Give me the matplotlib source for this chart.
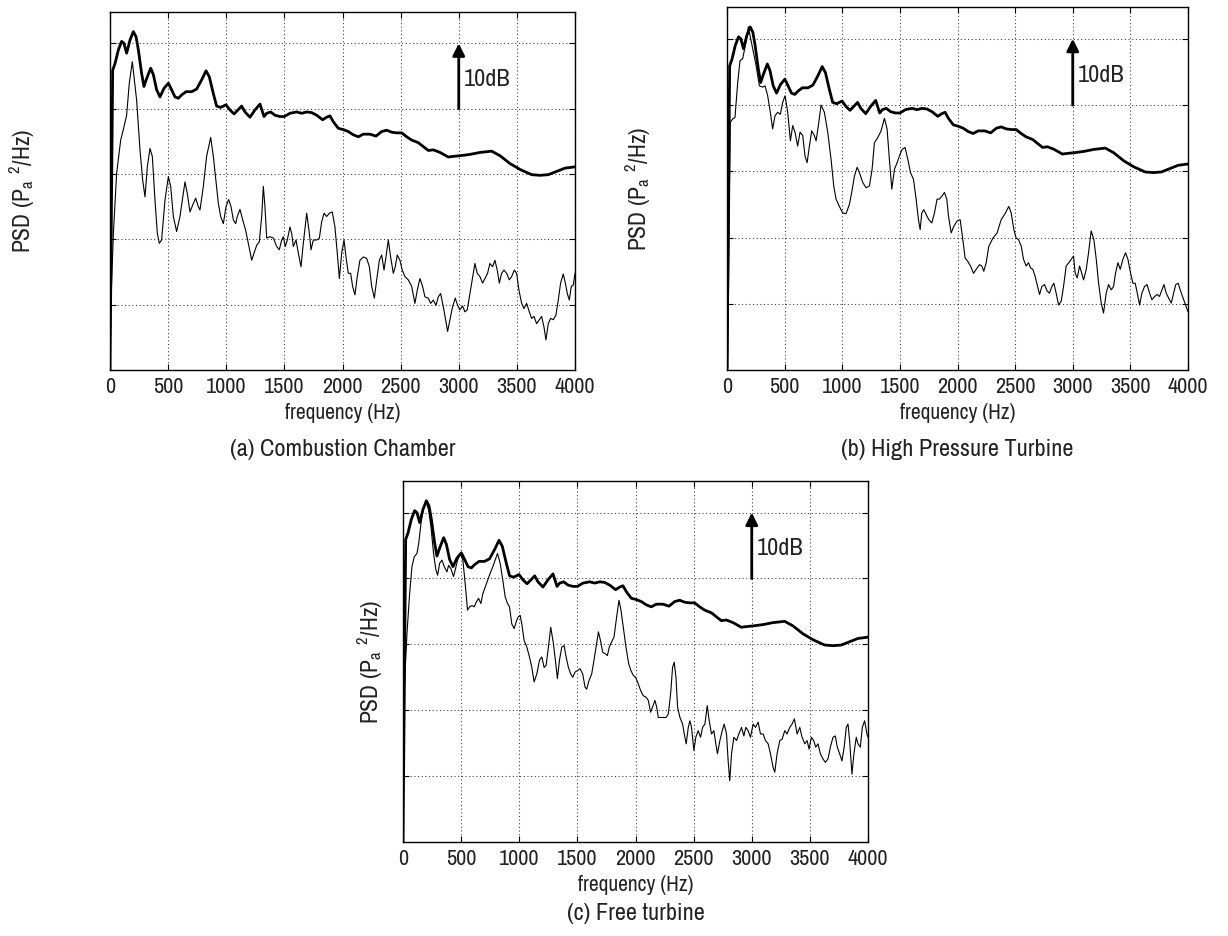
import matplotlib
matplotlib.use("Agg")
import matplotlib.pyplot as plt

plt.rcParams['font.family'] = ['Archivo Narrow', 'Liberation Sans', 'DejaVu Sans']
plt.rcParams['mathtext.default'] = 'regular'

# ---------------- data (frequency in Hz, level in dB, relative) ----------------
# thick curve: total / reference spectrum (same in the three panels)
thick_f = [0, 23, 43, 72, 100, 120, 143, 172, 201, 224, 244, 272, 292, 315, 350, 373, 401, 430,
           464, 502, 530, 559, 588, 616, 654, 702, 745, 788, 826, 854, 889, 917, 952, 998, 1032,
           1067, 1095, 1133, 1161, 1204, 1247, 1290, 1325, 1348, 1382, 1419, 1462, 1500, 1548,
           1606, 1649, 1692, 1735, 1778, 1829, 1864, 1892, 1921, 1964, 2007, 2050, 2093, 2136,
           2179, 2236, 2288, 2337, 2380, 2423, 2466, 2509, 2552, 2595, 2652, 2695, 2738, 2781,
           2839, 2910, 2953, 3011, 3096, 3183, 3283, 3355, 3441, 3527, 3627, 3699, 3770, 3842,
           3914, 4000]
thick_db = [0, 45.9, 46.9, 49.0, 50.3, 50.0, 48.5, 50.5, 51.8, 51.0, 49.0, 45.4, 43.4, 44.6, 46.2,
            45.2, 42.9, 41.8, 43.1, 43.9, 42.9, 41.8, 41.6, 42.1, 42.6, 42.6, 43.0, 44.4, 45.8,
            44.9, 42.3, 40.4, 40.2, 40.6, 39.8, 39.2, 39.7, 40.4, 39.5, 38.7, 39.8, 40.7, 38.8,
            39.3, 39.5, 39.0, 38.8, 38.8, 39.3, 39.5, 39.3, 39.5, 39.4, 39.0, 38.3, 38.7, 38.9,
            38.0, 37.0, 36.8, 36.5, 36.0, 35.7, 36.1, 36.1, 35.8, 36.5, 36.7, 36.4, 36.3, 36.3,
            35.7, 35.2, 34.8, 34.2, 33.6, 33.7, 33.3, 32.6, 32.7, 32.8, 33.0, 33.3, 33.5, 32.8,
            31.6, 30.7, 29.9, 29.8, 29.9, 30.4, 30.9, 31.1]

# thin curve (a) Combustion Chamber
cc_f = [0, 9, 29, 57, 92, 120, 143, 166, 192, 229, 258, 281, 301, 321, 344, 364, 387, 407, 424,
        444, 473, 502, 522, 545, 573, 602, 645, 665, 688, 717, 737, 760, 774, 803, 831, 866, 889,
        912, 932, 952, 975, 998, 1021, 1041, 1061, 1081, 1095, 1118, 1141, 1167, 1190, 1219,
        1239, 1262, 1284, 1305, 1319, 1333, 1348, 1376, 1405, 1434, 1456, 1477, 1491, 1508, 1525,
        1548, 1563, 1577, 1600, 1620, 1643, 1663, 1692, 1715, 1729, 1749, 1778, 1801, 1821, 1841,
        1864, 1887, 1912, 1935, 1955, 1973, 1993, 2013, 2030, 2050, 2070, 2087, 2107, 2127, 2150,
        2179, 2208, 2231, 2251, 2274, 2294, 2317, 2337, 2357, 2374, 2394, 2414, 2437, 2454, 2471,
        2494, 2514, 2537, 2566, 2595, 2623, 2643, 2666, 2689, 2709, 2738, 2758, 2781, 2804, 2824,
        2844, 2867, 2887, 2904, 2924, 2947, 2970, 2990, 3010, 3033, 3053, 3073, 3096, 3119, 3139,
        3159, 3182, 3205, 3225, 3248, 3268, 3291, 3311, 3331, 3349, 3369, 3389, 3412, 3435, 3455,
        3478, 3498, 3518, 3541, 3561, 3584, 3607, 3627, 3647, 3670, 3693, 3713, 3733, 3750, 3770,
        3790, 3813, 3836, 3856, 3876, 3899, 3917, 3934, 3951, 3968, 3985, 4000]
cc_db = [0, 10.7, 20.9, 30.1, 35.2, 37.2, 39.0, 43.9, 47.2, 41.3, 33.7, 29.1, 26.5, 31.1, 33.9,
         32.7, 26.0, 20.9, 19.4, 19.9, 26.0, 29.6, 28.1, 23.5, 21.2, 23.5, 28.8, 27.0, 24.2, 25.5,
         26.3, 25.0, 24.5, 28.1, 32.7, 35.6, 32.7, 28.8, 25.5, 23.5, 22.4, 25.0, 26.1, 25.0, 23.0,
         22.4, 23.5, 24.6, 23.0, 21.4, 19.4, 16.8, 17.9, 19.1, 19.6, 23.5, 28.1, 25.0, 20.2, 20.4,
         20.2, 18.9, 18.4, 19.9, 20.4, 18.9, 19.9, 21.9, 20.9, 18.9, 19.9, 17.9, 15.8, 19.4, 24.0,
         20.9, 18.4, 19.9, 19.9, 20.2, 22.7, 24.0, 23.5, 24.0, 24.2, 21.9, 17.9, 14.0, 17.9, 19.9,
         17.3, 14.8, 14.8, 12.8, 11.5, 14.3, 16.8, 17.3, 17.1, 15.8, 12.8, 11.0, 13.8, 16.8, 17.6,
         15.3, 17.3, 19.9, 17.3, 14.8, 15.8, 17.6, 16.8, 15.3, 14.3, 13.8, 12.8, 10.2, 12.2, 14.0,
         12.8, 11.2, 11.0, 10.2, 10.7, 9.9, 11.2, 11.7, 9.7, 7.7, 5.9, 7.7, 9.7, 11.0, 9.9, 9.2,
         9.8, 8.9, 9.2, 11.7, 14.3, 16.3, 14.8, 14.3, 13.3, 14.0, 14.8, 16.3, 15.8, 16.8, 15.3,
         13.3, 14.8, 15.3, 14.8, 13.8, 14.3, 15.3, 14.8, 12.2, 10.2, 9.4, 10.2, 8.9, 7.9, 8.2, 7.1,
         7.7, 8.2, 6.6, 4.6, 7.1, 7.9, 7.7, 8.4, 10.7, 13.3, 14.7, 13.3, 11.7, 10.7, 12.8, 13.0,
         14.8]

# thin curve (b) High Pressure Turbine
hpt_f = [0, 6, 29, 49, 69, 93, 113, 136, 165, 185, 223, 252, 281, 310, 330, 353, 376, 396, 417,
         440, 463, 483, 504, 527, 550, 570, 590, 613, 634, 657, 677, 695, 715, 735, 758, 773, 793,
         816, 845, 874, 903, 926, 946, 975, 1004, 1033, 1062, 1082, 1106, 1129, 1149, 1178, 1207,
         1236, 1259, 1279, 1308, 1337, 1366, 1389, 1409, 1430, 1453, 1476, 1496, 1519, 1545, 1569,
         1592, 1618, 1641, 1661, 1676, 1690, 1707, 1728, 1751, 1777, 1800, 1823, 1843, 1867, 1887,
         1907, 1922, 1945, 1968, 1997, 2023, 2046, 2066, 2089, 2113, 2139, 2162, 2191, 2211, 2228,
         2249, 2272, 2307, 2344, 2379, 2416, 2445, 2466, 2489, 2509, 2529, 2553, 2573, 2596, 2616,
         2634, 2654, 2674, 2691, 2712, 2732, 2755, 2778, 2798, 2819, 2836, 2856, 2877, 2900, 2920,
         2943, 2966, 2987, 3007, 3021, 3039, 3059, 3073, 3094, 3117, 3137, 3160, 3183, 3204, 3224,
         3247, 3267, 3290, 3311, 3334, 3354, 3371, 3392, 3412, 3435, 3458, 3479, 3502, 3522, 3542,
         3560, 3580, 3600, 3623, 3644, 3667, 3687, 3710, 3733, 3753, 3774, 3791, 3811, 3831, 3855,
         3875, 3894, 3915, 3932, 3952, 3973, 4000]
hpt_db = [0, 0.5, 37.4, 37.9, 38.1, 43.4, 46.7, 47.0, 49.5, 51.8, 48.5, 46.0, 42.9, 42.7, 42.9,
          41.4, 38.9, 36.4, 38.4, 38.9, 38.6, 40.4, 41.4, 38.9, 34.6, 36.9, 35.9, 33.8, 35.9, 35.4,
          32.3, 31.3, 33.8, 36.1, 35.4, 34.6, 36.9, 40.0, 38.9, 35.9, 31.8, 27.8, 25.8, 24.7, 23.7,
          23.6, 25.0, 26.8, 29.3, 30.6, 29.8, 28.3, 27.5, 27.8, 30.3, 34.3, 35.1, 36.1, 38.0, 36.4,
          31.8, 27.3, 30.3, 31.3, 32.3, 33.3, 33.6, 31.8, 29.8, 28.8, 25.8, 22.7, 21.2, 23.7, 24.2,
          23.5, 22.7, 22.2, 23.7, 25.8, 25.8, 26.3, 26.8, 25.8, 23.2, 20.7, 21.7, 22.5, 22.7, 19.7,
          16.9, 16.4, 15.7, 14.6, 15.2, 15.9, 15.7, 14.9, 16.2, 18.7, 19.9, 20.7, 22.7, 23.7, 24.7,
          23.7, 21.2, 19.9, 19.7, 18.7, 16.7, 15.7, 16.2, 15.4, 15.2, 14.1, 12.9, 11.4, 12.6, 12.9,
          11.9, 11.6, 12.6, 13.1, 11.6, 9.8, 10.4, 12.6, 15.7, 16.2, 16.7, 17.2, 14.6, 13.9, 15.7,
          14.9, 13.6, 15.2, 17.7, 21.0, 19.7, 16.7, 13.1, 10.1, 8.6, 11.6, 12.9, 12.1, 12.6, 14.6,
          16.2, 15.2, 16.7, 17.7, 16.7, 14.6, 13.1, 13.1, 11.6, 9.8, 11.6, 12.6, 12.9, 11.6, 10.6,
          11.1, 11.4, 11.1, 12.1, 12.9, 11.6, 10.9, 10.1, 11.6, 12.9, 13.1, 12.1, 11.1, 10.1, 8.8]

# thin curve (c) Free turbine
ft_f = [0, 6, 34, 57, 77, 97, 120, 135, 155, 178, 198, 220, 240, 263, 283, 298, 315, 335, 355,
        378, 392, 412, 435, 449, 470, 492, 515, 535, 555, 573, 593, 613, 630, 650, 670, 687, 707,
        727, 750, 773, 793, 813, 836, 859, 879, 899, 916, 936, 956, 979, 993, 1008, 1022, 1042,
        1065, 1088, 1108, 1128, 1151, 1174, 1194, 1214, 1231, 1251, 1271, 1294, 1314, 1328, 1346,
        1366, 1386, 1403, 1423, 1443, 1460, 1480, 1500, 1523, 1546, 1566, 1580, 1600, 1623, 1643,
        1661, 1681, 1701, 1718, 1738, 1758, 1775, 1795, 1815, 1838, 1858, 1875, 1895, 1918, 1941,
        1961, 1981, 2001, 2024, 2044, 2067, 2090, 2110, 2130, 2147, 2167, 2182, 2196, 2216, 2239,
        2262, 2282, 2302, 2319, 2333, 2348, 2362, 2382, 2405, 2425, 2436, 2454, 2468, 2482, 2502,
        2519, 2539, 2560, 2577, 2597, 2617, 2634, 2654, 2674, 2691, 2705, 2726, 2746, 2763, 2783,
        2797, 2811, 2826, 2846, 2869, 2889, 2912, 2932, 2949, 2969, 2989, 3012, 3032, 3055, 3075,
        3098, 3118, 3141, 3161, 3184, 3198, 3218, 3241, 3261, 3284, 3304, 3327, 3347, 3367, 3390,
        3413, 3433, 3456, 3476, 3493, 3513, 3533, 3550, 3570, 3590, 3613, 3633, 3656, 3676, 3699,
        3719, 3736, 3756, 3776, 3795, 3813, 3828, 3842, 3862, 3879, 3899, 3914, 3934, 3951, 3971,
        3991, 4000]
ft_db = [0, 21.5, 31.6, 37.7, 41.8, 43.3, 43.8, 45.3, 48.4, 50.9, 51.7, 50.4, 47.9, 43.8, 41.3,
         40.5, 42.3, 42.8, 41.8, 41.0, 42.0, 41.5, 40.3, 41.3, 42.8, 43.8, 42.8, 39.2, 35.2, 35.7,
         35.9, 35.7, 36.4, 37.0, 36.2, 37.7, 38.7, 39.7, 40.8, 41.8, 42.8, 43.8, 42.3, 39.7, 37.2,
         36.2, 35.7, 33.1, 32.4, 33.7, 34.2, 34.4, 33.1, 30.6, 29.6, 28.1, 26.5, 24.3, 25.5, 27.6,
         28.1, 26.5, 26.8, 29.6, 32.6, 30.1, 27.1, 24.8, 27.6, 29.6, 29.8, 28.1, 26.5, 25.5, 25.0,
         25.8, 26.0, 26.3, 25.5, 23.5, 23.2, 24.5, 25.5, 27.6, 29.6, 31.9, 30.4, 28.8, 28.6, 28.3,
         29.6, 30.4, 31.1, 34.2, 36.7, 35.2, 32.6, 29.6, 27.1, 26.0, 25.3, 25.0, 24.0, 23.0, 22.2,
         22.0, 21.5, 19.7, 20.5, 21.5, 20.5, 18.9, 18.9, 18.9, 18.9, 19.4, 22.5, 26.5, 27.3, 25.0,
         20.5, 18.9, 17.9, 15.9, 14.9, 17.4, 18.4, 17.4, 13.9, 15.9, 16.9, 15.9, 17.4, 17.9, 20.7,
         18.4, 16.4, 16.9, 14.9, 13.4, 15.4, 16.9, 17.9, 16.4, 12.3, 9.3, 13.4, 15.9, 15.4, 16.4,
         17.4, 16.1, 17.4, 16.9, 15.9, 17.9, 17.4, 18.2, 16.4, 16.4, 15.4, 14.9, 13.4, 11.3, 10.6,
         13.4, 15.4, 15.6, 16.9, 16.4, 17.4, 17.9, 18.7, 16.4, 17.4, 15.9, 14.9, 15.4, 14.1, 15.9,
         15.4, 14.4, 14.9, 13.4, 12.6, 12.1, 12.6, 14.4, 15.9, 16.1, 14.4, 13.4, 12.3, 14.4, 17.4,
         17.9, 15.4, 10.3, 13.4, 15.9, 14.9, 14.4, 17.4, 18.4, 16.4, 15.9]

x_ticks = [0, 500, 1000, 1500, 2000, 2500, 3000, 3500, 4000]
y_ticks = [10, 20, 30, 40, 50]
y_range = (0, 54.8)
arrow_f = 3000
arrow_db = (40, 50)
arrow_label = "10dB"

panels = [
    ("(a) Combustion Chamber", cc_f, cc_db),
    ("(b) High Pressure Turbine", hpt_f, hpt_db),
    ("(c) Free turbine", ft_f, ft_db),
]

# ---------------- layout (pixel boxes: left, top, right, bottom) ----------------
W, H = 1228, 936
boxes = [(110, 12, 575, 370), (727, 7, 1188, 370), (403, 481, 868, 842)]
ylabel_x = [21, 638, 370]
caption_dy = [79, 79, 71]

fig = plt.figure(figsize=(W / 100, H / 100), dpi=100)
tick_fs = 16
ink = '#222222'

for (title, tf, tdb), (l, t, r, b), ylx, cdy in zip(panels, boxes, ylabel_x, caption_dy):
    ax = fig.add_axes([l / W, 1 - b / H, (r - l) / W, (b - t) / H])
    ax.plot(thick_f, thick_db, color='black', lw=2.0, solid_joinstyle='round')
    ax.plot(tf, tdb, color='black', lw=0.8)
    ax.set_xlim(0, 4000)
    ax.set_ylim(*y_range)
    ax.set_xticks(x_ticks)
    ax.set_yticks(y_ticks)
    ax.set_yticklabels([])
    ax.tick_params(direction='in', length=4, width=0.8, top=True, right=True,
                   labelsize=tick_fs, pad=5, labelcolor=ink)
    ax.grid(True, color='0.2', linestyle=(0, (1, 2.5)), lw=0.75)
    for s in ax.spines.values():
        s.set_linewidth(1.0)
    ax.set_xlabel("frequency (Hz)", fontsize=15.5, color=ink)
    ax.xaxis.set_label_coords(0.5, -(43) / (b - t))
    ax.xaxis.label.set_va('center')
    ax.set_ylabel(r"PSD (P$_{a}\;^{2}$/Hz)", fontsize=17, color=ink)
    ax.yaxis.set_label_coords((ylx - l) / (r - l), 0.5)
    ax.yaxis.label.set_va('center')
    ax.annotate("", xy=(arrow_f, arrow_db[1]), xytext=(arrow_f, arrow_db[0]),
                arrowprops=dict(arrowstyle='-|>', lw=2.0, color='black',
                                mutation_scale=18, shrinkA=0, shrinkB=0))
    ax.text(arrow_f + 45, 44.5, arrow_label, fontsize=17.5, ha='left', va='center',
            color=ink)
    fig.text((l + r) / 2 / W, 1 - (b + cdy) / H, title, fontsize=17.5,
             ha='center', va='center', color=ink)

fig.savefig("out.png", dpi=100)
